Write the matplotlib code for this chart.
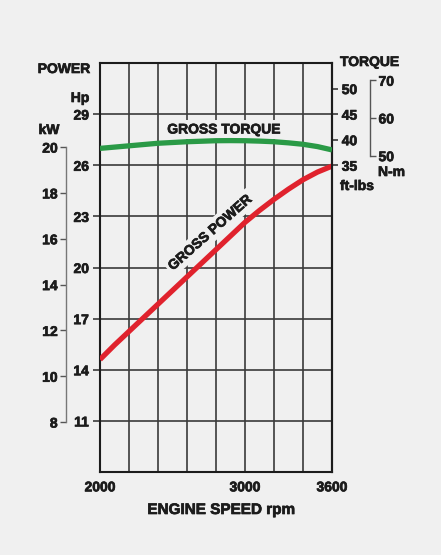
import matplotlib
matplotlib.use("Agg")
import matplotlib.pyplot as plt
import matplotlib.patheffects as pe

# ---- data ----
rpm = [2000, 2100, 2200, 2300, 2400, 2500, 2600, 2700, 2800, 2900,
       3000, 3100, 3200, 3300, 3400, 3500, 3600]
power_hp = [14.6, 15.45, 16.25, 17.05, 17.85, 18.65, 19.45, 20.25, 21.05, 21.85,
            22.65, 23.35, 24.0, 24.6, 25.15, 25.6, 25.95]
torque_ftlb = [38.3, 38.55, 38.8, 39.05, 39.3, 39.45, 39.6, 39.7, 39.8, 39.82,
               39.8, 39.72, 39.6, 39.38, 39.1, 38.65, 38.0]

x_labels = [2000, 3000, 3600]
hp_ticks = [11, 14, 17, 20, 23, 26, 29]
kw_ticks = [8, 10, 12, 14, 16, 18, 20]
ftlb_ticks = [35, 40, 45, 50]
nm_ticks = [50, 60, 70]

BG = "#f0f0f0"
INK = "#1c1c1c"
GRID = "#3a3a3a"
plt.rcParams['font.family'] = ['Liberation Sans', 'DejaVu Sans']
plt.rcParams['font.weight'] = 'bold'
HEAVY = [pe.withStroke(linewidth=0.5, foreground=INK)]

W, H = 441, 555
fig = plt.figure(figsize=(W / 100, H / 100), dpi=100, facecolor=BG)
L, R, T, B = 100, 332, 63, 472
ax = fig.add_axes([L / W, 1 - B / H, (R - L) / W, (B - T) / H])
ax.set_facecolor(BG)
ax.set_xlim(2000, 3600)
ax.set_ylim(8, 32)

# grid
for xv in range(2200, 3600, 200):
    ax.axvline(xv, color=GRID, lw=1.2, zorder=1)
for yv in hp_ticks:
    ax.axhline(yv, color=GRID, lw=1.2, zorder=1)
for s in ax.spines.values():
    s.set_color(INK)
    s.set_linewidth(1.5)

def style_labels(axis_obj):
    for t in axis_obj.get_ticklabels():
        t.set_path_effects(HEAVY)

ax.set_xticks(x_labels)
ax.set_xticklabels([str(v) for v in x_labels], fontsize=10, fontweight='bold', color=INK)
ax.tick_params(axis='x', length=0, pad=6)
ax.set_yticks(hp_ticks)
ax.set_yticklabels([str(v) for v in hp_ticks], fontsize=10, fontweight='bold', color=INK)
ax.tick_params(axis='y', direction='out', length=5, width=1.2, color=GRID, pad=3)
style_labels(ax.xaxis)
style_labels(ax.yaxis)

# power curve
ax.plot(rpm, power_hp, color="#e0222d", lw=3.8, solid_capstyle='butt', zorder=3)

# torque axis (ft-lbs), linear with Hp axis: 5 ft-lbs = 1.5 Hp, 35 at Hp 26
ax2 = ax.twinx()
ax2.set_ylim(-25, 55)
ax2.plot(rpm, torque_ftlb, color="#2a9a46", lw=3.8, solid_capstyle='butt', zorder=3)
for s in ['top', 'bottom', 'left']:
    ax2.spines[s].set_visible(False)
ax2.spines['right'].set_color(INK)
ax2.spines['right'].set_linewidth(1.5)
ax2.set_yticks(ftlb_ticks)
ax2.set_yticklabels([str(v) for v in ftlb_ticks], fontsize=10, fontweight='bold', color=INK)
ax2.tick_params(axis='y', direction='out', length=4, width=1.2, color=GRID, pad=3)
style_labels(ax2.yaxis)

# N-m axis
ax4 = ax.twinx()
ax4.set_ylim(-25 * 1.35582, 55 * 1.35582)
for s in ['top', 'bottom', 'left']:
    ax4.spines[s].set_visible(False)
ax4.spines['right'].set_position(('outward', 27.5))
ax4.spines['right'].set_bounds(50, 70)
ax4.spines['right'].set_color("#555555")
ax4.spines['right'].set_linewidth(1.0)
ax4.set_yticks(nm_ticks)
ax4.set_yticklabels([str(v) for v in nm_ticks], fontsize=10, fontweight='bold', color=INK)
ax4.tick_params(axis='y', direction='out', length=4, width=1.0, color="#555555", pad=2)
style_labels(ax4.yaxis)

# kW axis
ax3 = ax.twinx()
ax3.set_ylim(5.82, 23.67)
for s in ['top', 'bottom', 'right']:
    ax3.spines[s].set_visible(False)
ax3.spines['left'].set_visible(True)
ax3.spines['left'].set_position(('outward', 24.5))
ax3.spines['left'].set_bounds(8, 20)
ax3.spines['left'].set_color("#777777")
ax3.spines['left'].set_linewidth(1.0)
ax3.yaxis.set_ticks_position('left')
ax3.yaxis.set_label_position('left')
ax3.set_yticks(kw_ticks)
ax3.set_yticklabels([str(v) for v in kw_ticks], fontsize=10, fontweight='bold', color=INK)
ax3.tick_params(axis='y', direction='out', length=4, width=1.0, color="#555555", pad=2)
style_labels(ax3.yaxis)

# curve labels
ax.text(2855, 28.1, "GROSS TORQUE", fontsize=10, fontweight='bold', color=INK,
        ha='center', va='center', zorder=2, path_effects=HEAVY,
        bbox=dict(facecolor=BG, edgecolor='none', pad=2))
ax.text(2759, 22.05, "GROSS POWER", fontsize=10, fontweight='bold', color=INK,
        ha='center', va='center', rotation=41.5, rotation_mode='anchor', zorder=2,
        path_effects=HEAVY, bbox=dict(facecolor=BG, edgecolor='none', pad=2))

def ftext(x, y, s, size=10, ha='center'):
    fig.text(x / W, 1 - y / H, s, fontsize=size, fontweight='bold', color=INK,
             ha=ha, va='center', path_effects=HEAVY)

ftext(64, 69, "POWER", 10)
ftext(80, 98, "Hp", 10)
ftext(49, 130, "kW", 10)
ftext(340, 62, "TORQUE", 10, ha='left')
ftext(340, 186, "ft-lbs", 10, ha='left')
ftext(378, 172, "N-m", 10, ha='left')
ftext(221, 510, "ENGINE SPEED rpm", 11)

fig.savefig("out.png", dpi=100, facecolor=BG)
